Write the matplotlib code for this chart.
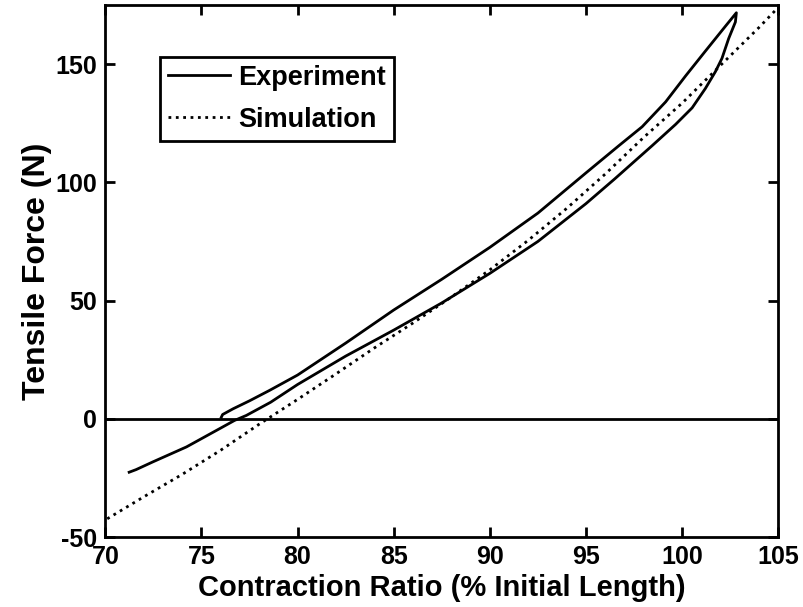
import numpy as np
import matplotlib
matplotlib.use("Agg")
import matplotlib.pyplot as plt

plt.rcParams['font.family'] = ['Liberation Sans', 'DejaVu Sans']
plt.rcParams['font.weight'] = 'bold'
plt.rcParams['axes.unicode_minus'] = False

# ---------------------------------------------------------------
# Experiment: loading branch (start -> tip), then unloading branch back
# ---------------------------------------------------------------
exp_x = [76.03, 76.1, 76.64, 77.5, 78.54, 80.0, 82.5, 85.0, 87.5, 90.0,
         92.5, 95.0, 96.71, 97.92, 99.14, 100.18, 101.21, 102.25, 102.82,
         102.77, 102.42, 102.07, 101.73, 101.21, 100.52, 99.66, 98.44,
         97.40, 96.5, 95.0, 92.5, 90.0, 87.5, 85.0, 82.5, 80.0, 78.6,
         77.33, 76.72, 75.94, 74.22, 72.48, 71.6, 71.24]
exp_y = [0.6, 1.8, 4.2, 7.6, 12.0, 18.5, 32.0, 46.0, 59.0, 72.5,
         87.0, 104.0, 115.5, 123.5, 134.0, 145.0, 155.5, 166.0, 171.7,
         167.8, 160.8, 152.4, 146.8, 139.7, 131.5, 124.5, 115.5,
         108.0, 101.5, 91.0, 75.0, 61.5, 49.0, 37.5, 26.5, 14.5, 7.0,
         1.4, -0.7, -4.2, -11.9, -18.2, -21.5, -22.6]

# Simulation curve
sim_x = [70.1, 72, 74, 76, 78, 80, 82, 84, 86, 88, 90, 92, 94, 96, 98,
         100, 102, 104, 105]
sim_y = [-42.3, -33.0, -23.5, -13.3, -2.3, 8.2, 19.0, 30.0, 40.5, 51.5,
         63.0, 75.5, 89.0, 103.5, 119.0, 133.5, 149.5, 165.5, 174.0]

x_ticks = [70, 75, 80, 85, 90, 95, 100, 105]
y_ticks = [-50, 0, 50, 100, 150]

fig = plt.figure(figsize=(8.04, 6.07), dpi=100)
ax = fig.add_axes([0.131, 0.1153, 0.837, 0.8765])

ax.plot(exp_x, exp_y, '-', color='black', lw=2.0, label='Experiment')
ax.plot(sim_x, sim_y, ':', color='black', lw=2.0, label='Simulation')
ax.axhline(0, color='black', lw=2.0)

ax.set_xlim(70, 105)
ax.set_ylim(-50, 175)
ax.set_xticks(x_ticks)
ax.set_yticks(y_ticks)
ax.tick_params(direction='in', length=7, width=2, top=True, right=True,
               labelsize=18, pad=6)
for s in ax.spines.values():
    s.set_linewidth(2)

ax.set_xlabel('Contraction Ratio (% Initial Length)', fontsize=21,
              fontweight='bold', labelpad=3)
ax.set_ylabel('Tensile Force (N)', fontsize=23, fontweight='bold',
              labelpad=2)

leg = ax.legend(loc='upper left', bbox_to_anchor=(0.081, 0.903),
                borderaxespad=0, fontsize=19.5, handlelength=2.3,
                handletextpad=0.3, labelspacing=0.6, borderpad=0.3,
                fancybox=False, framealpha=1, edgecolor='black')
leg.get_frame().set_linewidth(2)

fig.savefig('out.png', dpi=100)
